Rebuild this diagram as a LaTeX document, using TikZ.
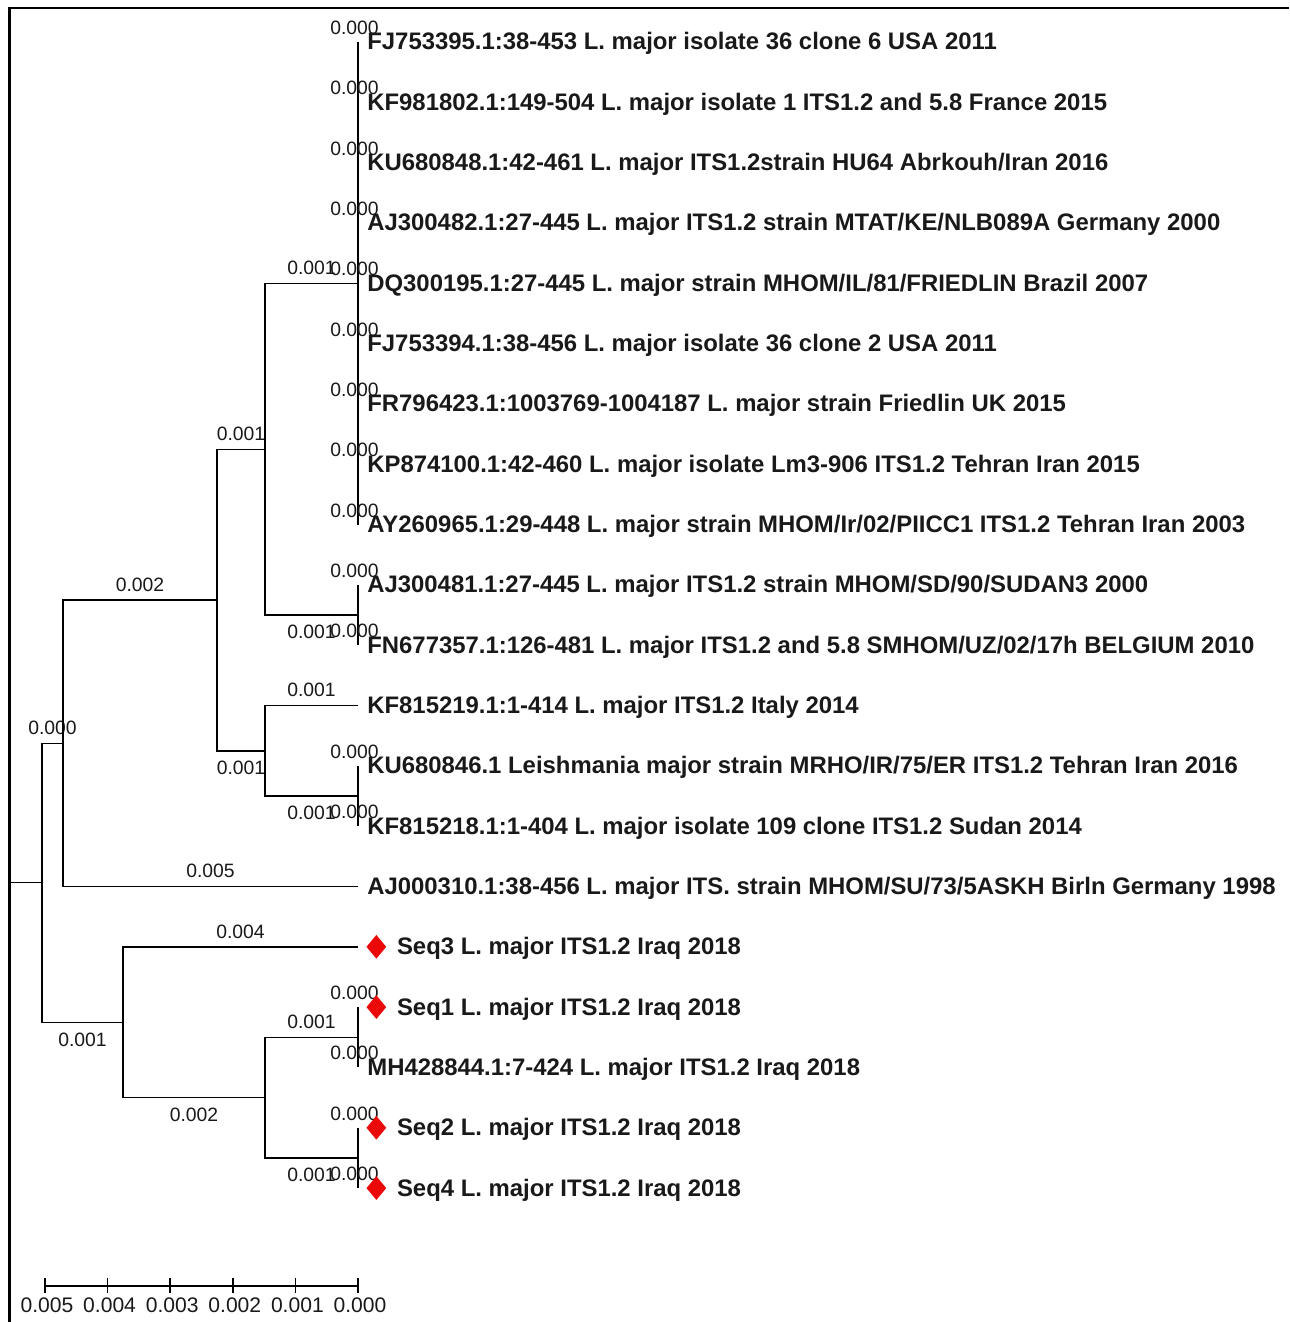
\documentclass[tikz,border=0pt]{standalone}
\usepackage{fontspec}
\setmainfont{Liberation Sans}
\usepackage{tikz}
\usetikzlibrary{positioning,shapes.geometric}
\usepackage{xcolor}
\definecolor{darktext}{RGB}{25,25,25}
\definecolor{markred}{RGB}{235,8,8}

\begin{document}
\begin{tikzpicture}[
    x=0.02cm, y=-0.02cm,
    branch/.style={draw=black, line width=0.8pt},
    frame/.style={draw=black, line width=1.4pt},
    blen/.style={font=\fontsize{11}{13}\selectfont, text=darktext, inner sep=0pt, pos=0.75},
    zlen/.style={font=\fontsize{11}{13}\selectfont, text=darktext, inner sep=0pt},
    scalelab/.style={font=\fontsize{12}{14}\selectfont, text=darktext, inner sep=0pt},
    taxon/.style={font=\bfseries\fontsize{13.6}{16}\selectfont, text=darktext, inner sep=0pt, text height=0.88em, text depth=0.22em, yshift=-1.2pt},
    gem/.style={diamond, fill=markred, minimum width=0.4cm, minimum height=0.48cm, inner sep=0pt}
]
    \useasboundingbox (0,0) rectangle (1289,1322);
    \draw[frame] (9.5,1322) -- (9.5,8) -- (1289,8);

    % tips
    \coordinate (p1) at (358,42);
    \coordinate (p2) at (358,102.3);
    \coordinate (p3) at (358,162.6);
    \coordinate (p4) at (358,223.0);
    \coordinate (p5) at (358,283.3);
    \coordinate (p6) at (358,343.6);
    \coordinate (p7) at (358,403.9);
    \coordinate (p8) at (358,464.2);
    \coordinate (p9) at (358,524.6);
    \coordinate (p10) at (358,584.9);
    \coordinate (p11) at (358,645.2);
    \coordinate (p12) at (358,705.5);
    \coordinate (p13) at (358,765.8);
    \coordinate (p14) at (358,826.2);
    \coordinate (p15) at (358,886.5);
    \coordinate (p16) at (358,946.8);
    \coordinate (p17) at (358,1007.1);
    \coordinate (p18) at (358,1067.4);
    \coordinate (p19) at (358,1127.8);
    \coordinate (p20) at (358,1188.1);

    % inner nodes
    \coordinate (nE) at (358,283.3);
    \coordinate (nF) at (358,615.0);
    \coordinate (nD) at (265,449.2);
    \coordinate (nH) at (358,796.0);
    \coordinate (nG) at (265,750.8);
    \coordinate (nC) at (217,600.0);
    \coordinate (nB) at (63,743.2);
    \coordinate (nK) at (358,1037.3);
    \coordinate (nL) at (358,1158.0);
    \coordinate (nJ) at (265,1097.6);
    \coordinate (nI) at (123,1022.2);
    \coordinate (nA) at (42,882.7);
    \coordinate (nR) at (9.5,882.7);

    % branches
    \draw[branch] (nR) -- (nA);
    \draw[branch] (nA) |- node[blen, above=4.5pt] (b1) {0.000} (nB);
    \draw[branch] (nA) |- node[blen, below=5.5pt] (b2) {0.001} (nI);
    \draw[branch] (nB) |- node[blen, above=4.5pt] (b3) {0.002} (nC);
    \draw[branch] (nB) |- node[blen, above=4.5pt] (b4) {0.005} (p15);
    \draw[branch] (nC) |- node[blen, above=4.5pt] (b5) {0.001} (nD);
    \draw[branch] (nC) |- node[blen, below=5.5pt] (b6) {0.001} (nG);
    \draw[branch] (nD) |- node[blen, above=4.5pt] (b7) {0.001} (nE);
    \draw[branch] (nD) |- node[blen, below=5.5pt] (b8) {0.001} (nF);
    \draw[branch] (nG) |- node[blen, above=4.5pt] (b9) {0.001} (p12);
    \draw[branch] (nG) |- node[blen, below=5.5pt] (b10) {0.001} (nH);
    \draw[branch] (nI) |- node[blen, above=4.5pt] (b11) {0.004} (p16);
    \draw[branch] (nI) |- node[blen, below=5.5pt] (b12) {0.002} (nJ);
    \draw[branch] (nJ) |- node[blen, above=4.5pt] (b13) {0.001} (nK);
    \draw[branch] (nJ) |- node[blen, below=5.5pt] (b14) {0.001} (nL);
    \draw[branch] (p1) -- (p9);
    \draw[branch] (p10) -- (p11);
    \draw[branch] (p13) -- (p14);
    \draw[branch] (p17) -- (p18);
    \draw[branch] (p19) -- (p20);

    % zero length labels
    \foreach \i in {1,...,11,13,14,17,18,19,20}
        \node[zlen, above=4pt of p\i, xshift=-2pt] (z\i) {0.000};

    % taxa
    \node[taxon, right=0.18cm of p1] (t1) {FJ753395.1:38-453 L. major isolate 36 clone 6 USA 2011};
    \node[taxon, right=0.18cm of p2] (t2) {KF981802.1:149-504 L. major isolate 1 ITS1.2 and 5.8 France 2015};
    \node[taxon, right=0.18cm of p3] (t3) {KU680848.1:42-461 L. major ITS1.2strain HU64 Abrkouh/Iran 2016};
    \node[taxon, right=0.18cm of p4] (t4) {AJ300482.1:27-445 L. major ITS1.2 strain MTAT/KE/NLB089A Germany 2000};
    \node[taxon, right=0.18cm of p5] (t5) {DQ300195.1:27-445 L. major strain MHOM/IL/81/FRIEDLIN Brazil 2007};
    \node[taxon, right=0.18cm of p6] (t6) {FJ753394.1:38-456 L. major isolate 36 clone 2 USA 2011};
    \node[taxon, right=0.18cm of p7] (t7) {FR796423.1:1003769-1004187 L. major strain Friedlin UK 2015};
    \node[taxon, right=0.18cm of p8] (t8) {KP874100.1:42-460 L. major isolate Lm3-906 ITS1.2 Tehran Iran 2015};
    \node[taxon, right=0.18cm of p9] (t9) {AY260965.1:29-448 L. major strain MHOM/Ir/02/PIICC1 ITS1.2 Tehran Iran 2003};
    \node[taxon, right=0.18cm of p10] (t10) {AJ300481.1:27-445 L. major ITS1.2 strain MHOM/SD/90/SUDAN3 2000};
    \node[taxon, right=0.18cm of p11] (t11) {FN677357.1:126-481 L. major ITS1.2 and 5.8 SMHOM/UZ/02/17h BELGIUM 2010};
    \node[taxon, right=0.18cm of p12] (t12) {KF815219.1:1-414 L. major ITS1.2 Italy 2014};
    \node[taxon, right=0.18cm of p13] (t13) {KU680846.1 Leishmania major strain MRHO/IR/75/ER ITS1.2 Tehran Iran 2016};
    \node[taxon, right=0.18cm of p14] (t14) {KF815218.1:1-404 L. major isolate 109 clone ITS1.2 Sudan 2014};
    \node[taxon, right=0.18cm of p15] (t15) {AJ000310.1:38-456 L. major ITS. strain MHOM/SU/73/5ASKH Birln Germany 1998};
    \node[gem, right=0.16cm of p16] (m16) {};
    \node[taxon, right=0.2cm of m16] (t16) {Seq3 L. major ITS1.2 Iraq 2018};
    \node[gem, right=0.16cm of p17] (m17) {};
    \node[taxon, right=0.2cm of m17] (t17) {Seq1 L. major ITS1.2 Iraq 2018};
    \node[taxon, right=0.18cm of p18] (t18) {MH428844.1:7-424 L. major ITS1.2 Iraq 2018};
    \node[gem, right=0.16cm of p19] (m19) {};
    \node[taxon, right=0.2cm of m19] (t19) {Seq2 L. major ITS1.2 Iraq 2018};
    \node[gem, right=0.16cm of p20] (m20) {};
    \node[taxon, right=0.2cm of m20] (t20) {Seq4 L. major ITS1.2 Iraq 2018};

    % scale bar
    \draw[branch] (45,1286) -- (358,1286);
    \foreach \k in {0,...,5} {
        \draw[branch] (358-62.6*\k,1278) -- (358-62.6*\k,1293);
        \node[scalelab, anchor=north] (s\k) at (358-62.6*\k+2,1297) {0.00\k};
    }
\end{tikzpicture}
\end{document}
